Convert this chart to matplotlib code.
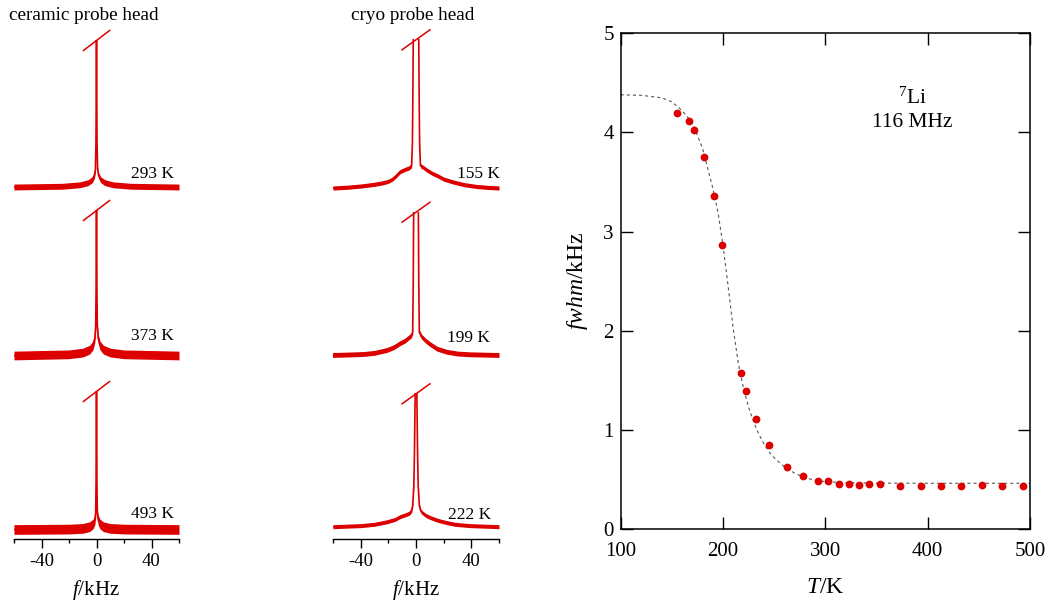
import matplotlib
matplotlib.use("Agg")
import matplotlib.pyplot as plt

plt.rcParams['font.family'] = ['Liberation Serif', 'DejaVu Serif']
plt.rcParams['mathtext.fontset'] = 'custom'
plt.rcParams['mathtext.rm'] = 'Liberation Serif'
plt.rcParams['mathtext.it'] = 'Liberation Serif:italic'
plt.rcParams['lines.scale_dashes'] = False

RED = '#dd0000'

# ---- line width (fwhm) of the 7Li NMR line vs temperature ----
temperature_K = [155, 167, 172, 181, 191, 199, 218, 222, 232, 245, 263, 278,
                 293, 303, 313, 323, 333, 343, 353, 373, 393, 413, 433, 453,
                 473, 493]
fwhm_kHz = [4.20, 4.12, 4.03, 3.75, 3.36, 2.87, 1.58, 1.39, 1.11, 0.85, 0.625,
            0.535, 0.49, 0.485, 0.457, 0.46, 0.45, 0.457, 0.453, 0.433, 0.433,
            0.437, 0.44, 0.45, 0.44, 0.437]

# motional-narrowing fit curve
fit_T = [100, 120, 140, 150, 160, 170, 180, 190, 195, 200, 205, 210, 215, 220,
         225, 230, 235, 240, 245, 250, 260, 270, 280, 290, 300, 320, 350, 400,
         500]
fit_fwhm = [4.38, 4.375, 4.35, 4.31, 4.22, 4.10, 3.84, 3.44, 3.20, 2.86, 2.45,
            2.02, 1.67, 1.42, 1.23, 1.08, 0.96, 0.86, 0.78, 0.72, 0.63, 0.565,
            0.52, 0.495, 0.48, 0.47, 0.466, 0.464, 0.464]

# ---- spectra: frequency (kHz) and intensity (baseline 0, cut level 1) ----
freq_293 = [-60, -25, -12, -6, -3, -1.5, -0.8, -0.4, -0.2, 0,
            0.2, 0.4, 0.8, 1.5, 3, 6, 12, 25, 60]
int_293 = [0, 0.005, 0.015, 0.03, 0.05, 0.08, 0.12, 0.3, 0.6, 1.4,
           0.6, 0.3, 0.12, 0.08, 0.05, 0.03, 0.015, 0.005, 0]
noise_293 = 0.02

freq_373 = [-60, -20, -10, -5, -2.5, -1.2, -0.6, -0.3, 0,
            0.3, 0.6, 1.2, 2.5, 5, 10, 20, 60]
int_373 = [0, 0.008, 0.02, 0.04, 0.07, 0.12, 0.2, 0.45, 1.4,
           0.45, 0.2, 0.12, 0.07, 0.04, 0.02, 0.008, 0]
noise_373 = 0.03

freq_493 = [-60, -20, -10, -5, -2.5, -1.2, -0.6, -0.3, 0,
            0.3, 0.6, 1.2, 2.5, 5, 10, 20, 60]
int_493 = [0, 0.003, 0.008, 0.02, 0.04, 0.07, 0.12, 0.35, 1.4,
           0.35, 0.12, 0.07, 0.04, 0.02, 0.008, 0.003, 0]
noise_493 = 0.035

freq_155 = [-60, -50, -40, -30, -24, -20, -17, -14, -11.5, -8, -5, -3.2, -2.6,
            -2.2, -2.0, 0, 2.0, 2.2, 2.6, 3.2, 5, 8, 12, 15, 20, 27, 35, 44,
            52, 60]
int_155 = [0, 0.005, 0.013, 0.025, 0.035, 0.045, 0.06, 0.085, 0.11, 0.125,
           0.135, 0.15, 0.3, 0.7, 1.0, 1.4, 1.0, 0.7, 0.3, 0.15, 0.14, 0.12,
           0.097, 0.085, 0.06, 0.04, 0.022, 0.01, 0.004, 0]
noise_155 = 0.014

freq_199 = [-61, -50, -38, -30, -21, -16, -11.6, -8, -5.5, -3.5, -2.4, -2.0,
            -1.7, 0, 1.7, 2.0, 2.4, 4, 7, 10, 15, 22, 30, 39, 60]
int_199 = [0, 0.003, 0.007, 0.015, 0.035, 0.055, 0.082, 0.1, 0.12, 0.135,
           0.16, 0.5, 1.0, 1.3, 1.0, 0.5, 0.16, 0.128, 0.1, 0.077, 0.045,
           0.023, 0.01, 0.005, 0]
noise_199 = 0.017

freq_222 = [-60, -40, -30, -21, -15, -11.6, -8, -5, -3.2, -2.4, -1.6, -1.2,
            -0.6, 0, 0.6, 1.2, 1.6, 2.4, 3.2, 4, 7, 10, 15, 19.6, 28, 39, 60]
int_222 = [0, 0.008, 0.018, 0.037, 0.055, 0.075, 0.088, 0.10, 0.12, 0.16,
           0.3, 0.5, 1.0, 1.4, 1.0, 0.5, 0.3, 0.16, 0.125, 0.11, 0.085, 0.07,
           0.05, 0.037, 0.018, 0.008, 0]
noise_222 = 0.015

W, H = 1048, 603
fig = plt.figure(figsize=(W / 100, H / 100), dpi=100)


def px_axes(x0, x1, y0, y1):
    return fig.add_axes([x0 / W, 1 - y1 / H, (x1 - x0) / W, (y1 - y0) / H])


def spectrum_panel(x0, x1, y_top, y_base, y_bot, freq, inten, noise, label,
                   label_f, label_y, slash_df, bottom_axis):
    ax = px_axes(x0, x1, y_top, y_bot)
    scale = y_base - y_top
    ax.set_xlim(-60, 60)
    ax.set_ylim(-(y_bot - y_base) / scale, 1)
    lo = [v - noise for v in inten]
    hi = [v + noise for v in inten]
    ax.fill_between(freq, lo, hi, color=RED, lw=0)
    ax.plot(freq, inten, color=RED, lw=1.2)
    # break mark across the cut peak
    ax.plot([-slash_df, slash_df], [1 - 10.5 / scale, 1 + 9.5 / scale],
            color=RED, lw=1.1, clip_on=False)
    ax.text(label_f, (y_base - label_y) / scale, label, ha='right',
            va='baseline', fontsize=12.5)
    for s in ('left', 'right', 'top'):
        ax.spines[s].set_visible(False)
    ax.set_yticks([])
    if bottom_axis:
        ax.spines['bottom'].set_linewidth(1.0)
        ax.set_xticks([-40, 0, 40])
        ax.set_xticklabels(['-40', '0', '40'])
        ax.set_xticks([-60, -20, 20, 60], minor=True)
        ax.tick_params(axis='x', which='major', direction='out', length=6.5,
                       width=1.0, labelsize=13.5, pad=4)
        ax.tick_params(axis='x', which='minor', direction='out', length=3,
                       width=1.0)
    else:
        ax.spines['bottom'].set_visible(False)
        ax.set_xticks([])
    ax.patch.set_alpha(0)
    return ax


# ceramic probe head column
spectrum_panel(14, 179, 40, 187, 200, freq_293, int_293, noise_293, '293 K', 56.4, 177.5, 9.5, False)
spectrum_panel(14, 179, 210, 355.5, 368, freq_373, int_373, noise_373, '373 K', 56.4, 340.5, 9.5, False)
spectrum_panel(14, 179, 391, 529.5, 538.5, freq_493, int_493, noise_493, '493 K', 56.4, 517.5, 9.5, True)

# cryo probe head column
spectrum_panel(333, 499, 39.3, 188, 200, freq_155, int_155, noise_155, '155 K', 60.5, 177.5, 10.1, False)
spectrum_panel(333, 499, 211.7, 355, 368, freq_199, int_199, noise_199, '199 K', 53.5, 342.5, 10.1, False)
spectrum_panel(333, 499, 393.3, 526.7, 538.5, freq_222, int_222, noise_222, '222 K', 54.7, 519, 10.1, True)

fig.text(84 / W, 1 - 20.5 / H, 'ceramic probe head', ha='center', va='baseline', fontsize=13.8)
fig.text(413 / W, 1 - 20.5 / H, 'cryo probe head', ha='center', va='baseline', fontsize=13.8)
fig.text(96 / W, 1 - 595 / H, '$f$/kHz', ha='center', va='baseline', fontsize=15)
fig.text(416 / W, 1 - 595 / H, '$f$/kHz', ha='center', va='baseline', fontsize=15)

# ---- fwhm vs T panel ----
ax = px_axes(620.7, 1030, 33.3, 529.3)
ax.plot(fit_T, fit_fwhm, color='#555555', lw=0.8, dashes=(2.2, 2.2))
ax.plot(temperature_K, fwhm_kHz, 'o', color=RED, ms=5.6, mec='none')
ax.set_xlim(100, 500)
ax.set_ylim(0, 5)
ax.set_xticks([100, 200, 300, 400, 500])
ax.set_yticks([0, 1, 2, 3, 4, 5])
ax.tick_params(direction='in', length=8.5, width=1.0, top=True, right=True,
               labelsize=15)
ax.tick_params(axis='x', pad=9.5)
ax.tick_params(axis='y', pad=5)
for s in ax.spines.values():
    s.set_linewidth(1.1)
ax.text(912.5 / W, 1 - 103.3 / H, '$^7$Li', transform=fig.transFigure,
        ha='center', va='baseline', fontsize=15.5)
ax.text(912.5 / W, 1 - 126.7 / H, '116 MHz', transform=fig.transFigure,
        ha='center', va='baseline', fontsize=15.5)
fig.text(825.4 / W, 1 - 592.7 / H, '$T$/K', ha='center', va='baseline', fontsize=17)
fig.text(577 / W, 1 - 281 / H, '$fwhm$/kHz', ha='center', va='center',
         rotation=90, fontsize=17)

fig.savefig('out.png', dpi=100)
